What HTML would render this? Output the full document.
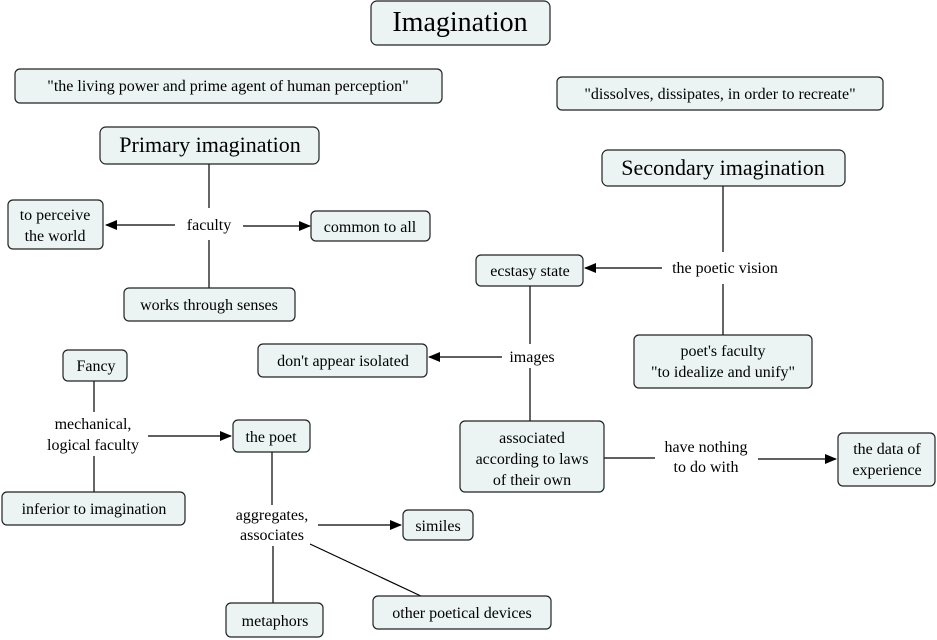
<!DOCTYPE html>
<html><head><meta charset="utf-8"><style>
body{margin:0;background:#fff;}
svg{display:block;font-family:"Liberation Serif",serif;}
rect{fill:#ebf3f3;stroke:#222;stroke-width:1.2;}
line{stroke:#000;stroke-width:1.2;}
text{fill:#000;text-anchor:middle;}
</style></head><body>
<svg width="937" height="640" viewBox="0 0 937 640">
<defs><marker id="a" markerWidth="12" markerHeight="10" refX="11" refY="5" orient="auto" markerUnits="userSpaceOnUse"><path d="M0,0 L12,5 L0,10 z" fill="#000"/></marker></defs>
<!-- lines -->
<line x1="209" y1="164" x2="209" y2="208"/>
<line x1="209" y1="240" x2="209" y2="288"/>
<line x1="175" y1="225" x2="106" y2="225" marker-end="url(#a)"/>
<line x1="243" y1="226" x2="310" y2="226" marker-end="url(#a)"/>
<line x1="723" y1="186" x2="723" y2="252"/>
<line x1="723" y1="284" x2="723" y2="335"/>
<line x1="662" y1="268" x2="585" y2="268" marker-end="url(#a)"/>
<line x1="530" y1="286" x2="530" y2="344"/>
<line x1="530" y1="368" x2="530" y2="421"/>
<line x1="502" y1="357" x2="429" y2="357" marker-end="url(#a)"/>
<line x1="604" y1="458" x2="655" y2="458"/>
<line x1="758" y1="459" x2="836" y2="459" marker-end="url(#a)"/>
<line x1="94" y1="381" x2="94" y2="412"/>
<line x1="94" y1="456" x2="94" y2="492"/>
<line x1="148" y1="436" x2="231" y2="436" marker-end="url(#a)"/>
<line x1="272" y1="452" x2="272" y2="505"/>
<line x1="318" y1="525" x2="401" y2="525" marker-end="url(#a)"/>
<line x1="273" y1="546" x2="273" y2="603"/>
<line x1="310" y1="544" x2="423" y2="597"/>
<!-- boxes -->
<rect x="371" y="1" width="179" height="44" rx="6"/>
<text x="460" y="31" font-size="28">Imagination</text>
<rect x="15" y="69" width="427" height="34" rx="5"/>
<text x="228" y="91" font-size="16">"the living power and prime agent of human perception"</text>
<rect x="557" y="77" width="326" height="33" rx="5"/>
<text x="720" y="99" font-size="16">"dissolves, dissipates, in order to recreate"</text>
<rect x="100" y="127" width="219" height="37" rx="6"/>
<text x="210" y="152" font-size="22">Primary imagination</text>
<rect x="8" y="200" width="95" height="49" rx="5"/>
<text x="55" y="220" font-size="16">to perceive</text>
<text x="55" y="241" font-size="16">the world</text>
<text x="209" y="230" font-size="16">faculty</text>
<rect x="311" y="211" width="119" height="30" rx="5"/>
<text x="370" y="232" font-size="16">common to all</text>
<rect x="124" y="288" width="171" height="33" rx="5"/>
<text x="209" y="310" font-size="16">works through senses</text>
<rect x="602" y="150" width="243" height="36" rx="6"/>
<text x="723" y="175" font-size="22">Secondary imagination</text>
<text x="725" y="273" font-size="16">the poetic vision</text>
<rect x="476" y="255" width="107" height="31" rx="5"/>
<text x="530" y="276" font-size="16">ecstasy state</text>
<rect x="634" y="335" width="178" height="53" rx="5"/>
<text x="723" y="356" font-size="16">poet's faculty</text>
<text x="723" y="377" font-size="16">"to idealize and unify"</text>
<text x="532" y="362" font-size="16">images</text>
<rect x="258" y="344" width="169" height="33" rx="5"/>
<text x="343" y="366" font-size="16">don't appear isolated</text>
<rect x="460" y="421" width="144" height="71" rx="5"/>
<text x="532" y="443" font-size="16">associated</text>
<text x="532" y="464" font-size="16">according to laws</text>
<text x="532" y="485" font-size="16">of their own</text>
<text x="706" y="452" font-size="16">have nothing</text>
<text x="706" y="472" font-size="16">to do with</text>
<rect x="838" y="433" width="97" height="53" rx="5"/>
<text x="887" y="454" font-size="16">the data of</text>
<text x="887" y="475" font-size="16">experience</text>
<rect x="63" y="350" width="64" height="31" rx="5"/>
<text x="96" y="371" font-size="16">Fancy</text>
<text x="93" y="429" font-size="16">mechanical,</text>
<text x="93" y="450" font-size="16">logical faculty</text>
<rect x="233" y="420" width="77" height="32" rx="5"/>
<text x="271" y="442" font-size="16">the poet</text>
<rect x="2" y="492" width="183" height="33" rx="5"/>
<text x="94" y="514" font-size="16">inferior to imagination</text>
<text x="272" y="520" font-size="16">aggregates,</text>
<text x="272" y="540" font-size="16">associates</text>
<rect x="403" y="510" width="70" height="30" rx="5"/>
<text x="438" y="531" font-size="16">similes</text>
<rect x="226" y="603" width="97" height="34" rx="5"/>
<text x="275" y="626" font-size="16">metaphors</text>
<rect x="373" y="596" width="178" height="33" rx="5"/>
<text x="462" y="618" font-size="16">other poetical devices</text>
</svg>
</body></html>
